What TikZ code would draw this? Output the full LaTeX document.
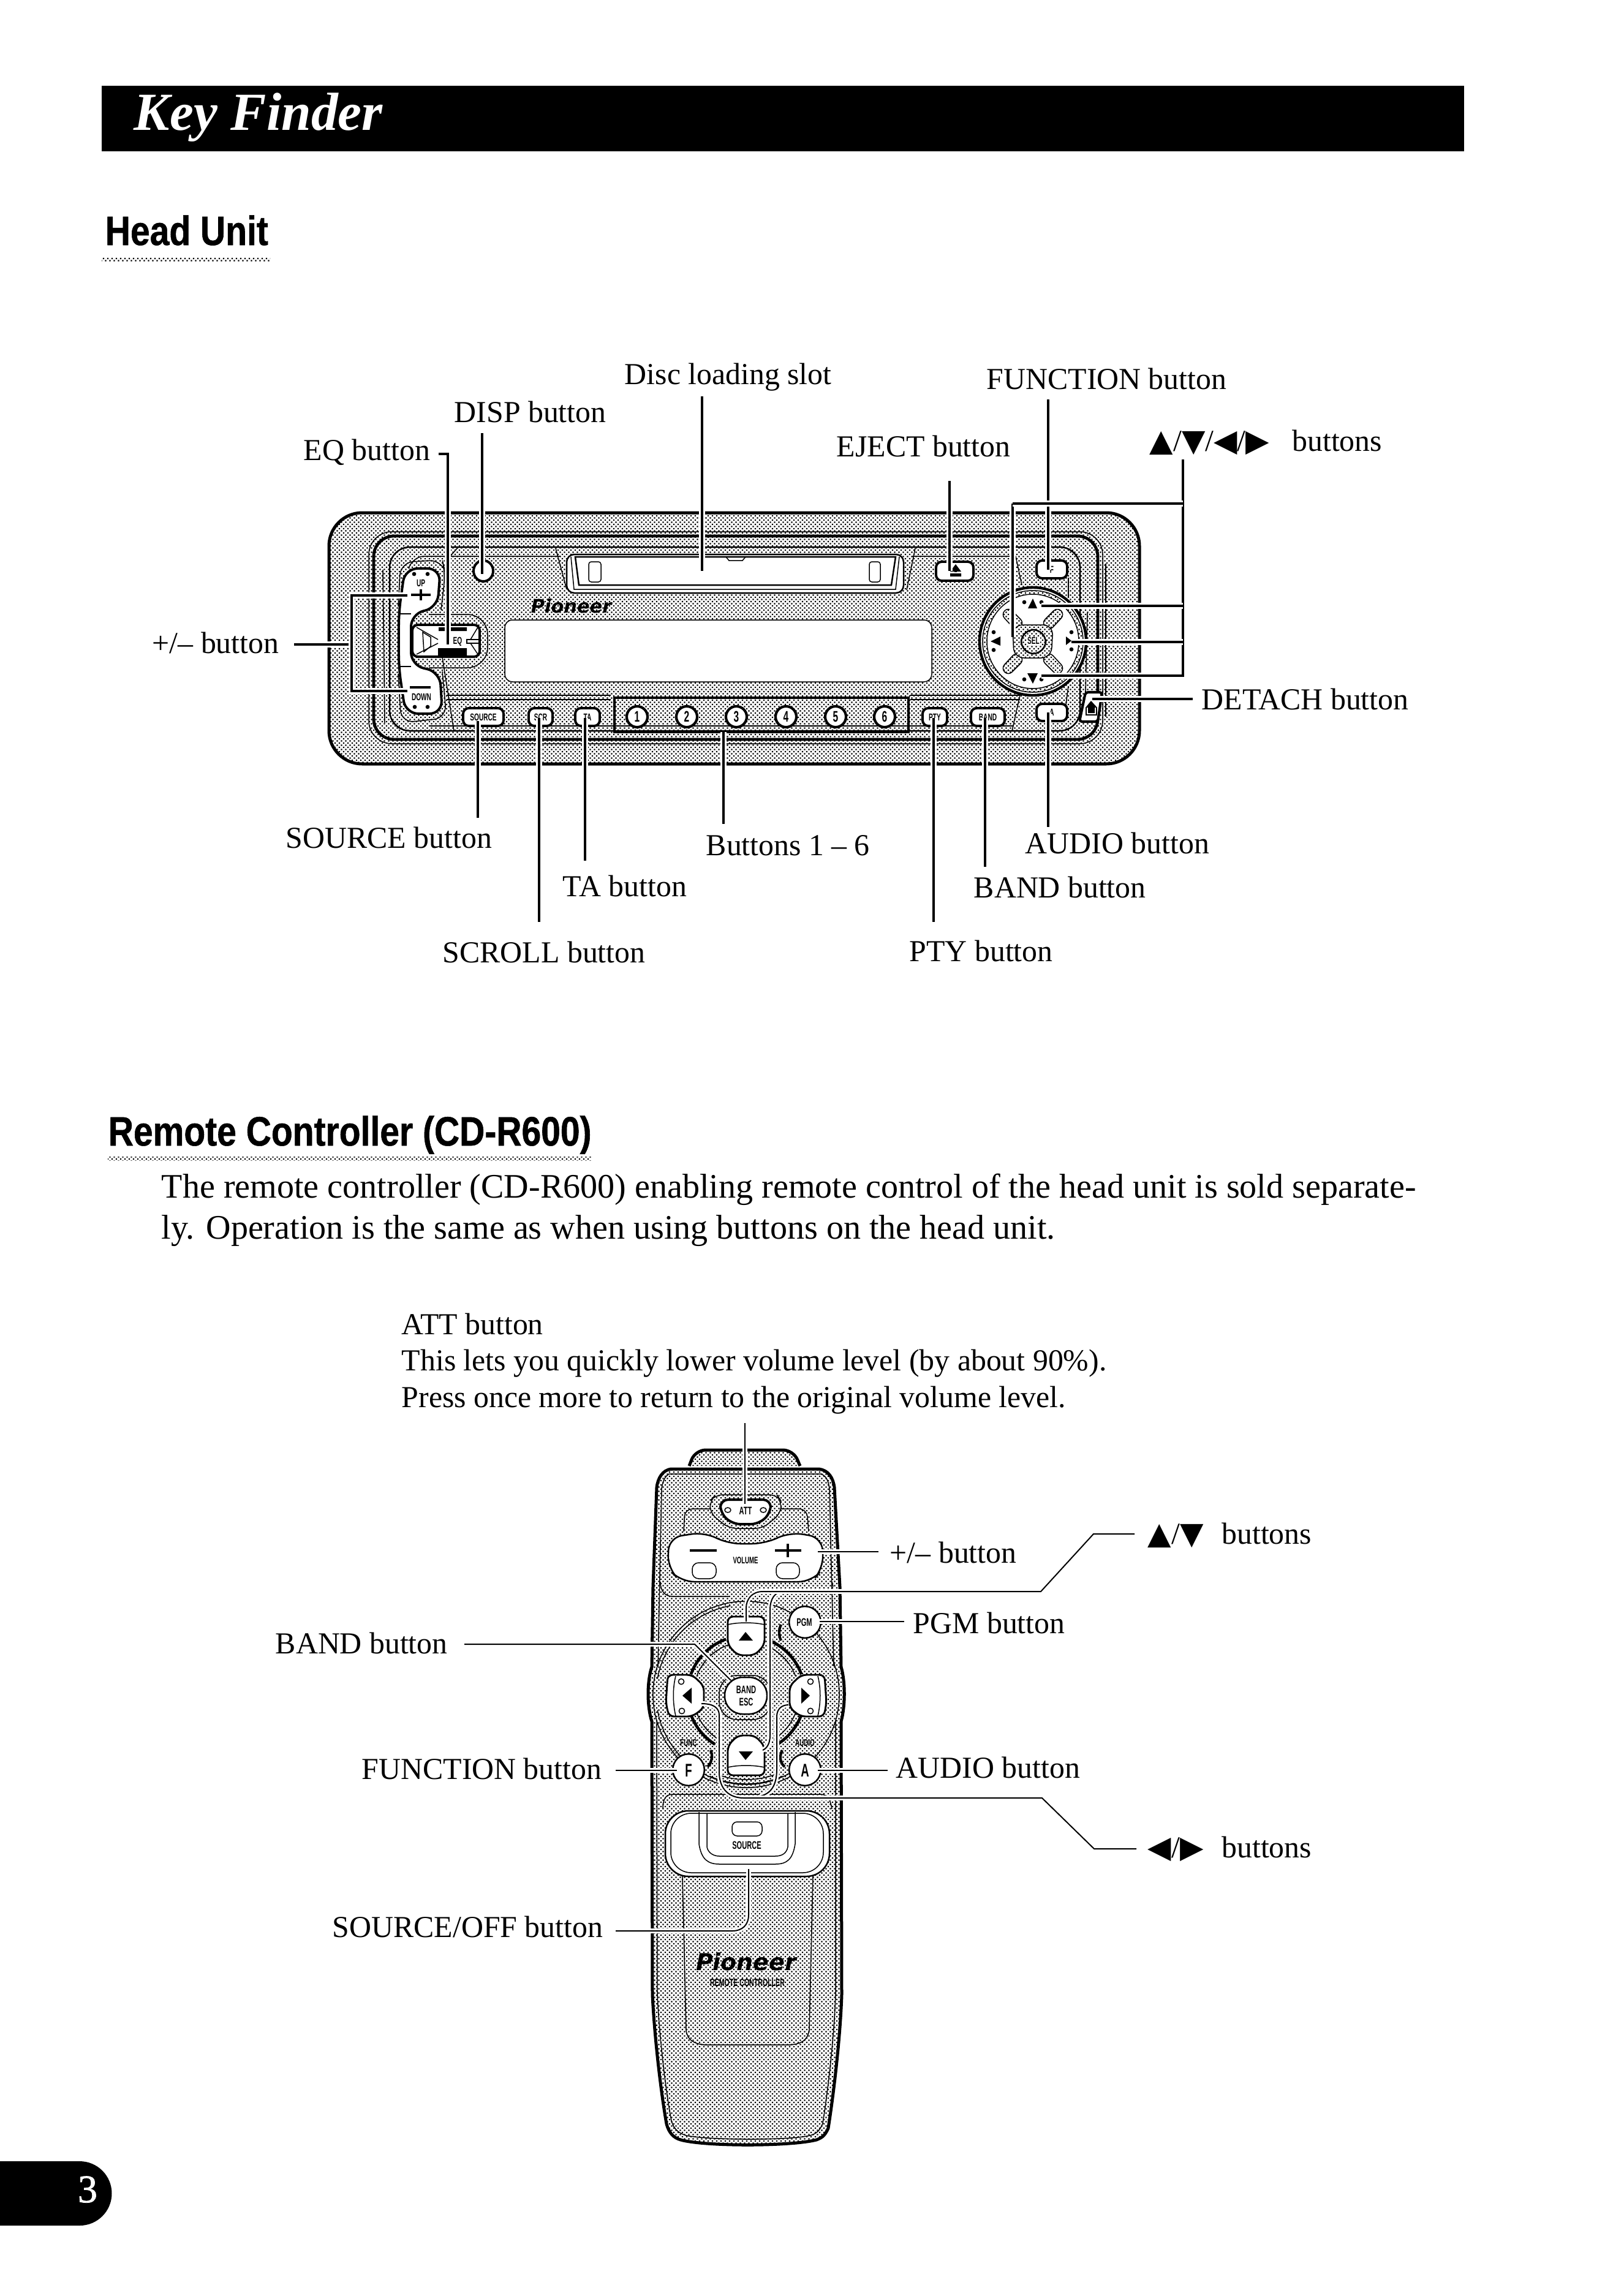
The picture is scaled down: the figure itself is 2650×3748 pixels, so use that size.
\documentclass[tikz,border=0pt]{standalone}
\usepackage{fontspec}
\usetikzlibrary{patterns}
\setmainfont{Liberation Serif}
\newfontfamily\headf[FakeStretch=0.85,FakeBold=0.8]{Liberation Sans}
\newfontfamily\capf[FakeStretch=0.62]{Liberation Sans}
\newfontfamily\logof{DejaVu Sans}
\newfontfamily\symf{DejaVu Sans}
\newfontfamily\pagef[FakeBold=1.2]{Liberation Serif}
% Halftone screen used on the moulded faces of both devices
\pgfdeclarepatternformonly{screen}{\pgfqpoint{-0.1pt}{-0.1pt}}{\pgfqpoint{1.7pt}{1.7pt}}{\pgfqpoint{1.68pt}{1.68pt}}{%
  \pgfpathrectangle{\pgfqpoint{0pt}{0pt}}{\pgfqpoint{0.53pt}{0.53pt}}%
  \pgfpathrectangle{\pgfqpoint{0.84pt}{0.84pt}}{\pgfqpoint{0.53pt}{0.53pt}}%
  \pgfusepath{fill}}
\newcommand{\lblsize}{\fontsize{11.95}{14}\selectfont}
\newcommand{\ringarc}[6]{\draw[#6] plot[domain=#4:#5,samples=24,smooth] ({#1+#3*cos(\x)},{#2-#3*sin(\x)});}
\newcommand{\keycap}[6]{\draw[capframe] (#2,#3) rectangle (#4,#5);
  \node[captext] (#1) at ({(#2+#4)/2},{(#3+#5)/2}) {#6};}
\newcommand{\tup}{{\symf\fontsize{12}{14}\selectfont ▲}}
\newcommand{\tdn}{{\symf\fontsize{12}{14}\selectfont ▼}}
\newcommand{\tlf}{{\symf\fontsize{12}{14}\selectfont ◀}}
\newcommand{\trt}{{\symf\fontsize{12}{14}\selectfont ▶}}
\tikzset{
  x=0.24pt,y=-0.24pt,
  lbl/.style={anchor=base west,inner sep=0pt,font=\lblsize},
  para/.style={anchor=base west,inner sep=0pt,font=\fontsize{13.46}{16}\selectfont},
  headline/.style={anchor=base west,inner sep=0pt,font=\headf\bfseries\fontsize{16.1}{18}\selectfont},
  captext/.style={inner sep=0pt,font=\capf\bfseries\fontsize{3.9}{4}\selectfont},
  bigcap/.style={inner sep=0pt,font=\capf\bfseries\fontsize{6}{7}\selectfont},
  lead/.style={line width=0.85pt,preaction={draw=white,line width=2.2pt}},
  thinlead/.style={line width=0.48pt,preaction={draw=white,line width=1.9pt}},
  shade/.style={pattern=screen,preaction={fill=white}},
  capframe/.style={draw,line width=0.95pt,fill=white,rounded corners=2.2pt},
  fine/.style={line width=0.36pt},
  mid/.style={line width=0.6pt},
  heavy/.style={line width=1.2pt},
  ink/.style={fill=black,draw=none},
}
\begin{document}
\begin{tikzpicture}
\useasboundingbox (0,0) rectangle (2650,3748);

% ---- page furniture ----
\fill (166,140) rectangle (2390,247);
\node[anchor=base west,inner sep=0pt,text=white,font=\bfseries\itshape\fontsize{21}{24}\selectfont] (title) at (218,212) {Key Finder};
\node[headline] (headA) at (171,400) {Head Unit};
\fill[pattern=screen] (166,420) rectangle (441,426);
\node[headline] (headB) at (176,1870) {Remote Controller (CD-R600)};
\fill[pattern=screen] (176,1888) rectangle (965,1894);
\fill (0,3528) -- (130,3528) arc[start angle=90,end angle=-90,radius=12.6pt] -- (0,3633) -- cycle;
\node[anchor=base,inner sep=0pt,text=white,font=\pagef\fontsize{15.4}{18}\selectfont] (pageno) at (143,3595) {3};

\node[para] (p1) at (263,1955) {The remote controller (CD-R600) enabling remote control of the head unit is sold separate-};
\node[para] (p2) at (263,2022) {ly. Operation is the same as when using buttons on the head unit.};

% ---- head unit: body and frames ----
\draw[heavy,shade,rounded corners=13pt] (537,837) rectangle (1860,1247);
\draw[fine,rounded corners=9pt] (602,868) rectangle (1800,1214);
\draw[line width=1.15pt,rounded corners=8pt] (610,875) rectangle (1792,1207);
\draw[mid,rounded corners=8pt] (636,893) rectangle (1763,1193);
\draw[fine] (625,930) -- (628,1180);
\draw[fine] (1775,1000) -- (1772,1130);
\draw[fine] (1805,920) -- (1805,1170);
% sub-frames that run from the slot to the keypad
\draw[fine,rounded corners=5pt] (668,925) -- (672,908) -- (915,908);
\draw[fine] (748,893) -- (735,908);
\draw[fine] (907,895) -- (925,962);
\draw[fine] (1494,895) -- (1480,963);
\draw[fine] (1489,908) -- (1658,908) -- (1668,955);
\draw[fine] (1744,943) -- (1744,975);
\draw[fine] (1744,1120) -- (1740,1150);
\draw[fine] (729,1135) -- (997,1135) (729,1142) -- (997,1142);
\draw[fine] (1486,1135) -- (1665,1135) (1486,1142) -- (1665,1142);
\draw[fine] (722,1073) -- (741,1193);
\draw[fine] (1665,1135) -- (1652,1193);
\draw[mid] (700,1185) -- (1655,1185);
\draw[fine,rounded corners=8pt] (700,1003) -- (796,1003) -- (796,1090) -- (700,1090);

% disc slot
\draw[mid,fill=white,rounded corners=3pt] (925,905) rectangle (1475,968);
\draw[mid] (939,909) -- (1462,909) -- (1455,955) -- (945,955) -- cycle;
\draw[fine] (932,909) -- (937,962) -- (1462,962) -- (1468,909);
\draw[fine,rounded corners=1pt] (961,917) rectangle (981,950);
\draw[fine,rounded corners=1pt] (1419,917) rectangle (1437,950);
\draw[fine] (1185,909) -- (1190,915) -- (1212,915) -- (1217,909);

% display window and logo
\draw[fine,fill=white,rounded corners=3pt] (824,1012) rectangle (1521,1113);
\node[anchor=base west,inner sep=0pt,font=\logof\bfseries\itshape\fontsize{7.3}{8}\selectfont] (logoA) at (866,1000) {Pioneer};

% rocker key with + and - ends
\draw[fine,rounded corners=5pt] (650,990) -- (654,918) -- (722,914) -- (727,935) -- (720,996);
\draw[fine,rounded corners=5pt] (722,1096) -- (729,1172) -- (655,1180) -- (650,1100);
\draw[line width=0.95pt,fill=white,rounded corners=5pt] (661,928) -- (719,928) -- (714,992) -- (671,1002) -- (671,1086) -- (718,1097) -- (722,1165) -- (662,1165) -- (651,1090) -- (651,1000) -- cycle;
\draw[fine] (651,1002) -- (671,1002) (651,1088) -- (671,1088);
\fill (676,937) circle[radius=0.8pt] (698,937) circle[radius=0.8pt] (677,1154) circle[radius=0.8pt] (698,1154) circle[radius=0.8pt];
\node[captext] (upkey) at (687,952) {UP};
\node[captext] (downkey) at (688,1138) {DOWN};
\draw[line width=1.1pt] (671,971) -- (703,971) (687,962) -- (687,980);
\draw[line width=1.1pt] (669,1122) -- (703,1122);

% EQ key
\draw[capframe] (673,1020) rectangle (783,1072);
\draw[fine] (690,1032) -- (692,1064) -- (703,1055) -- (703,1040) -- cycle;
\draw[fine] (680,1024) -- (715,1044) (680,1068) -- (715,1050) (780,1024) -- (768,1044) (780,1068) -- (768,1050);
\draw[fine] (762,1044) rectangle (782,1050);
\fill (716,1024) rectangle (762,1030) (715,1058) rectangle (762,1070);
\node[captext] (eqkey) at (747,1047) {EQ};

% DISP key
\draw[capframe,rounded corners=0pt] (789,932) ellipse[x radius=16,y radius=17];

% lower row of keys
\keycap{sourcekey}{756}{1156}{822}{1185}{SOURCE}
\keycap{scrkey}{863}{1156}{902}{1185}{SCR}
\keycap{takey}{939}{1156}{979}{1185}{TA}
\keycap{ptykey}{1506}{1156}{1546}{1185}{PTY}
\keycap{bandkey}{1585}{1156}{1640}{1185}{BAND}
\keycap{audiokey}{1692}{1149}{1742}{1177}{A}
\keycap{funckey}{1692}{915}{1742}{944}{F}
\draw[capframe] (1528,917) rectangle (1589,948);
\node[ink,inner sep=0pt] (ejectkey) at (1560,932) {};
\fill (1551,933) -- (1560,921) -- (1569,933) -- cycle (1551,936) rectangle (1569,941);

% preset keys 1-6 in their box
\draw[line width=0.85pt] (1003,1139) rectangle (1483,1195);
\foreach \nm/\cx/\txt in {pa/1040/1,pb/1121/2,pc/1202/3,pd/1283/4,pe/1364/5,pf/1444/6}{
  \draw[line width=1pt,fill=white] (\cx,1170) ellipse[x radius=17,y radius=17];
  \node[bigcap] (\nm) at (\cx,1170) {\txt};
}

% detach key
\draw[line width=1pt,fill=white,rounded corners=1pt] (1772,1130) -- (1799,1130) -- (1792,1178) -- (1762,1178) -- cycle;
\draw[fine] (1773,1155) -- (1773,1167) -- (1790,1167) -- (1790,1155);
\fill (1772,1155) -- (1781,1144) -- (1791,1155) -- (1787,1155) -- (1787,1164) -- (1776,1164) -- (1776,1155) -- cycle;

% direction pad
\draw[line width=1.05pt,fill=white] (1686,1047) ellipse[x radius=87,y radius=88];
\draw[fine,shade] (1686,1047) ellipse[x radius=82,y radius=83];
\draw[fine,fill=white] (1686,1047) ellipse[x radius=75,y radius=77];
\foreach \sx/\sy in {1/1,-1/1,1/-1,-1/-1}{
  \draw[fine,shade,rounded corners=2pt] ({1686+\sx*52},{1047+\sy*(-44)}) -- ({1686+\sx*40},{1047+\sy*(-56)}) -- ({1686+\sx*14},{1047+\sy*(-30)}) -- ({1686+\sx*27},{1047+\sy*(-17)}) -- cycle;
}
\draw[fine,shade,rounded corners=4pt] (1653,1020) -- (1719,1020) -- (1716,1074) -- (1655,1074) -- cycle;
\draw[mid,shade,rounded corners=5pt] (1667,1028) rectangle (1707,1067);
\node[captext,fill=white,inner sep=0.3pt] (selkey) at (1687,1046) {SEL};
\fill (1678,993) -- (1686,977) -- (1693,993) -- cycle;
\fill (1677,1099) -- (1686,1116) -- (1694,1099) -- cycle;
\fill (1617,1047) -- (1633,1039) -- (1633,1054) -- cycle;
\fill (1740,1039) -- (1749,1046) -- (1740,1053) -- cycle;
\foreach \a/\b in {1672/983,1700/983,1672/1109,1700/1109,1622/1032,1622/1061,1749/1032,1749/1060}{
  \fill (\a,\b) circle[radius=0.8pt];
}

% ---- head unit: callouts ----
\coordinate (eqA) at (716,741);   \coordinate (eqB) at (731,741);   \coordinate (eqC) at (731,1052);
\coordinate (dispA) at (787,707); \coordinate (dispB) at (787,937);
\coordinate (discA) at (1146,647);\coordinate (discB) at (1146,932);
\coordinate (ejA) at (1550,785);  \coordinate (ejB) at (1550,932);
\coordinate (fnA) at (1711,652);  \coordinate (fnB) at (1711,930);
\coordinate (brTop) at (1931,750);\coordinate (brC) at (1931,822);
\coordinate (brL) at (1653,822);  \coordinate (brLd) at (1653,1040);
\coordinate (brU) at (1931,989);  \coordinate (upEnd) at (1700,989);
\coordinate (brM) at (1931,1048); \coordinate (rtEnd) at (1749,1048);
\coordinate (brD) at (1931,1103); \coordinate (dnEnd) at (1700,1103);
\coordinate (plA) at (480,1052);  \coordinate (plB) at (574,1052);
\coordinate (plT) at (574,972);   \coordinate (plTe) at (665,972);
\coordinate (plD) at (574,1128);  \coordinate (plDe) at (665,1128);
\coordinate (detA) at (1783,1141);\coordinate (detB) at (1947,1141);
\coordinate (srcA) at (780,1177); \coordinate (srcB) at (780,1335);
\coordinate (scrA) at (880,1172); \coordinate (scrB) at (880,1505);
\coordinate (taA) at (955,1172);  \coordinate (taB) at (955,1405);
\coordinate (numA) at (1181,1195);\coordinate (numB) at (1181,1345);
\coordinate (ptyA) at (1524,1172);\coordinate (ptyB) at (1524,1505);
\coordinate (bndA) at (1608,1172);\coordinate (bndB) at (1608,1415);
\coordinate (audA) at (1711,1163);\coordinate (audB) at (1711,1350);

\draw[lead] (eqA) -- (eqB) -- (eqC);
\draw[lead] (dispA) -- (dispB);
\draw[lead] (discA) -- (discB);
\draw[lead] (ejA) -- (ejB);
\draw[lead] (brL) -- (brLd);
\draw[lead] (fnA) -- (fnB);
\draw[lead] (brTop) -- (brD) -- (dnEnd);
\draw[lead] (brC) -- (brL);
\draw[lead] (brU) -- (upEnd);
\draw[lead] (brM) -- (rtEnd);
\draw[lead] (plA) -- (plB);
\draw[lead] (plTe) -- (plT) -- (plD) -- (plDe);
\draw[lead] (detA) -- (detB);
\draw[lead] (srcA) -- (srcB);
\draw[lead] (scrA) -- (scrB);
\draw[lead] (taA) -- (taB);
\draw[lead] (numA) -- (numB);
\draw[lead] (ptyA) -- (ptyB);
\draw[lead] (bndA) -- (bndB);
\draw[lead] (audA) -- (audB);

\node[lbl] (lDisc) at (1019,627) {Disc loading slot};
\node[lbl] (lDisp) at (741,689) {DISP button};
\node[lbl] (lEq) at (495,751) {EQ button};
\node[lbl] (lFunc) at (1610,635) {FUNCTION button};
\node[lbl] (lEject) at (1365,745) {EJECT button};
\node[lbl] (lArrows) at (1876,736) {\tup/\tdn/\tlf/\trt\hspace{0.75em}buttons};
\node[lbl] (lPlus) at (248,1066) {+/– button};
\node[lbl] (lDetach) at (1961,1158) {DETACH button};
\node[lbl] (lSource) at (466,1384) {SOURCE button};
\node[lbl] (lTa) at (918,1463) {TA button};
\node[lbl] (lNum) at (1152,1396) {Buttons 1 – 6};
\node[lbl] (lAudio) at (1673,1393) {AUDIO button};
\node[lbl] (lBand) at (1589,1465) {BAND button};
\node[lbl] (lScroll) at (722,1571) {SCROLL button};
\node[lbl] (lPty) at (1484,1569) {PTY button};

% ---- remote controller: casing ----
\draw[heavy,shade,rounded corners=4pt] (1125,2393) -- (1135,2367) -- (1295,2367) -- (1306,2393);
\draw[heavy,shade] (1095,2398) -- (1337,2398) .. controls (1352,2400) and (1360,2412) .. (1362,2428)
  -- (1371,2590) -- (1373,2721) .. controls (1380,2745) and (1380,2785) .. (1373,2810)
  -- (1374,3256) .. controls (1372,3320) and (1362,3410) .. (1352,3474)
  .. controls (1346,3488) and (1340,3490) .. (1333,3493) .. controls (1290,3504) and (1150,3504) .. (1111,3493)
  .. controls (1100,3490) and (1092,3482) .. (1088,3467) .. controls (1078,3410) and (1068,3320) .. (1065,3256)
  -- (1064,2810) .. controls (1056,2785) and (1056,2745) .. (1064,2721)
  -- (1066,2590) -- (1072,2428) .. controls (1074,2412) and (1082,2400) .. (1095,2398) -- cycle;
\draw[fine] (1092,2406) -- (1340,2406) .. controls (1350,2410) and (1352,2418) .. (1354,2430)
  -- (1361,2720) (1364,2810) -- (1364,3256) .. controls (1362,3320) and (1352,3410) .. (1343,3466)
  .. controls (1338,3480) and (1330,3484) .. (1322,3486) .. controls (1290,3494) and (1160,3494) .. (1120,3486)
  .. controls (1108,3482) and (1100,3476) .. (1096,3462) .. controls (1086,3410) and (1076,3320) .. (1073,3256)
  -- (1072,2810) (1074,2720) -- (1080,2430) .. controls (1082,2416) and (1086,2410) .. (1092,2406);
\draw[fine] (1078,2582) .. controls (1078,2598) and (1086,2606) .. (1098,2606) -- (1190,2606);
\draw[fine] (1358,2582) -- (1360,2590);
\draw[fine] (1082,2953) .. controls (1082,2938) and (1086,2929) .. (1098,2929) -- (1340,2929) .. controls (1350,2929) and (1356,2938) .. (1358,2953);

% volume key and ATT key
\draw[fine,rounded corners=3pt] (1116,2500) -- (1118,2463) -- (1165,2463) (1270,2463) -- (1317,2463) -- (1320,2500);
\draw[mid,fill=white,rounded corners=5pt] (1092,2510) -- (1150,2501) -- (1188,2520) -- (1248,2520) -- (1290,2501) -- (1342,2510) -- (1344,2560) -- (1325,2582) -- (1112,2582) -- (1090,2560) -- cycle;
\draw[line width=1.15pt] (1126,2531) -- (1170,2531) (1265,2531) -- (1308,2531) (1286,2520) -- (1286,2542);
\draw[fine,fill=white,rounded corners=2.5pt] (1130,2551) rectangle (1169,2577);
\draw[fine,fill=white,rounded corners=2.5pt] (1267,2551) rectangle (1305,2577);
\node[captext,font=\capf\bfseries\fontsize{3.7}{4}\selectfont] (volkey) at (1217,2547) {VOLUME};
\draw[fine,shade,rounded corners=3pt] (1159,2450) -- (1168,2440) -- (1268,2440) -- (1275,2450) -- (1275,2470) -- (1245,2495) -- (1190,2495) -- (1159,2470) -- cycle;
\draw[line width=0.95pt,fill=white,rounded corners=3pt] (1176,2448) -- (1258,2448) -- (1258,2470) -- (1238,2488) -- (1196,2488) -- (1176,2470) -- cycle;
\draw[fine] (1188,2465) ellipse[x radius=5,y radius=4] (1246,2465) ellipse[x radius=5,y radius=4];
\node[captext,font=\capf\bfseries\fontsize{4.3}{5}\selectfont] (attkey) at (1217,2466) {ATT};

% direction ring
\draw[fine] (1218,2766) circle[radius=36.5pt];
\ringarc{1218}{2766}{147}{100}{170}{fine}
\ringarc{1218}{2766}{147}{190}{300}{fine}
\foreach \a/\b in {110/160,20/66,200/238,302/340}{
  \ringarc{1218}{2766}{96}{\a}{\b}{line width=1.15pt}
  \ringarc{1218}{2766}{86}{\a}{\b}{fine}
}
\draw[line width=1pt] (1275,2652) .. controls (1271,2660) and (1271,2670) .. (1275,2678);
\draw[line width=1pt] (1160,2857) .. controls (1164,2865) and (1162,2878) .. (1155,2884);
\draw[line width=1pt] (1277,2857) .. controls (1272,2866) and (1273,2878) .. (1281,2884);
\ringarc{1218}{2766}{146}{246}{294}{fine}
\ringarc{1218}{2766}{139}{250}{290}{fine}

\draw[capframe,line width=0.7pt,rounded corners=2pt] (1188,2639) -- (1248,2639) -- (1248,2685) -- (1232,2702) -- (1204,2702) -- (1188,2685) -- cycle;
\draw[fine] (1188,2652) .. controls (1205,2648) and (1230,2648) .. (1248,2652);
\fill (1206,2678) -- (1217,2664) -- (1229,2678) -- cycle;
\draw[capframe,line width=0.7pt,rounded corners=2pt] (1204,2833) -- (1232,2833) -- (1248,2850) -- (1248,2898) -- (1188,2898) -- (1188,2850) -- cycle;
\draw[fine] (1188,2885) .. controls (1205,2881) and (1230,2881) .. (1248,2885);
\fill (1206,2859) -- (1229,2859) -- (1217,2873) -- cycle;
\draw[capframe,line width=0.7pt,rounded corners=2pt] (1090,2734) -- (1130,2734) -- (1149,2752) -- (1149,2788) -- (1130,2802) -- (1092,2802) -- (1087,2780) -- cycle;
\draw[fine] (1103,2736) .. controls (1098,2755) and (1098,2780) .. (1103,2801);
\fill (1114,2768) -- (1129,2755) -- (1129,2781) -- cycle;
\draw[fine] (1112,2745) circle[radius=1.1pt] (1113,2793) circle[radius=1.1pt];
\draw[capframe,line width=0.7pt,rounded corners=2pt] (1308,2734) -- (1346,2734) -- (1349,2780) -- (1345,2802) -- (1307,2802) -- (1289,2788) -- (1289,2752) -- cycle;
\draw[fine] (1335,2736) .. controls (1340,2755) and (1340,2780) .. (1335,2801);
\fill (1322,2768) -- (1308,2755) -- (1308,2781) -- cycle;
\draw[fine] (1323,2745) circle[radius=1.1pt] (1323,2793) circle[radius=1.1pt];

\draw[fine,rounded corners=7pt] (1174,2735) rectangle (1258,2807);
\draw[mid,fill=white,rounded corners=7pt] (1183,2738) rectangle (1252,2798);
\node[captext,font=\capf\bfseries\fontsize{4.3}{5}\selectfont] (bandkey2) at (1218,2758) {BAND};
\node[captext,font=\capf\bfseries\fontsize{4.3}{5}\selectfont] (esckey) at (1218,2778) {ESC};

\draw[mid,fill=white] (1314,2648) circle[radius=6.2pt];
\node[captext,font=\capf\bfseries\fontsize{4.3}{5}\selectfont] (pgmkey) at (1313,2648) {PGM};
\draw[mid,fill=white] (1124,2889) circle[radius=6.2pt];
\node[captext,font=\capf\bfseries\fontsize{7.2}{8}\selectfont] (fkey) at (1124,2890) {F};
\draw[mid,fill=white] (1314,2889) circle[radius=6.2pt];
\node[captext,font=\capf\bfseries\fontsize{7.2}{8}\selectfont] (akey) at (1314,2890) {A};
\node[captext,font=\capf\bfseries\fontsize{3.8}{4}\selectfont] (functxt) at (1124,2845) {FUNC};
\node[captext,font=\capf\bfseries\fontsize{3.8}{4}\selectfont] (audtxt) at (1314,2845) {AUDIO};

% source flap and lower cover
\draw[fine] (1114,3063) -- (1120,3314) .. controls (1122,3330) and (1132,3336) .. (1150,3338) -- (1290,3338) .. controls (1310,3336) and (1318,3330) .. (1321,3314) -- (1327,3063);
\draw[mid,fill=white,rounded corners=9pt] (1086,2956) rectangle (1354,3063);
\draw[fine,rounded corners=8pt] (1095,2960) rectangle (1344,3057);
\draw[fine] (1141,2958) -- (1141,3010) .. controls (1145,3035) and (1155,3043) .. (1175,3043) -- (1265,3043) .. controls (1285,3043) and (1294,3035) .. (1298,3010) -- (1298,2958);
\draw[fine] (1154,2960) -- (1154,3015) .. controls (1156,3025) and (1165,3030) .. (1175,3030) -- (1265,3030) .. controls (1277,3030) and (1284,3025) .. (1286,3015) -- (1286,2960);
\draw[fine,rounded corners=2pt] (1195,2974) rectangle (1244,2997);
\node[captext,font=\capf\bfseries\fontsize{4.3}{5}\selectfont] (srckey) at (1219,3012) {SOURCE};
\node[anchor=base,inner sep=0pt,font=\logof\bfseries\itshape\fontsize{9.1}{10}\selectfont] (logoB) at (1218,3216) {Pioneer};
\node[inner sep=0pt,font=\capf\bfseries\fontsize{4.1}{5}\selectfont] (rc) at (1220,3237) {REMOTE CONTROLLER};

% ---- remote controller: callouts ----
\coordinate (attA) at (1216,2323); \coordinate (attB) at (1216,2455);
\coordinate (volA) at (1335,2533); \coordinate (volB) at (1434,2533);
\coordinate (pgmA) at (1338,2647); \coordinate (pgmB) at (1476,2647);
\coordinate (audRa) at (1335,2890);\coordinate (audRb) at (1449,2890);
\coordinate (fA) at (1005,2890);   \coordinate (fB) at (1105,2890);
\coordinate (bA) at (758,2684);    \coordinate (bB) at (1134,2684); \coordinate (bC) at (1193,2743);
\coordinate (uA) at (1852,2504);   \coordinate (uB) at (1785,2504); \coordinate (uC) at (1699,2598);
\coordinate (uD) at (1245,2598);   \coordinate (uE) at (1218,2647);
\coordinate (uF) at (1279,2598);   \coordinate (uG) at (1257,2833); \coordinate (uH) at (1245,2857);
\coordinate (lA) at (1855,3018);   \coordinate (lB) at (1786,3018); \coordinate (lC) at (1701,2935);
\coordinate (lD) at (1214,2935);   \coordinate (lE) at (1174,2800); \coordinate (lF) at (1145,2781);
\coordinate (lG) at (1241,2932);   \coordinate (lH) at (1268,2802); \coordinate (lI) at (1287,2783);
\coordinate (sA) at (1005,3152);   \coordinate (sB) at (1195,3152); \coordinate (sC) at (1222,3126); \coordinate (sD) at (1222,3051);

\draw[thinlead] (attA) -- (attB);
\draw[thinlead] (volA) -- (volB);
\draw[thinlead] (pgmA) -- (pgmB);
\draw[thinlead] (audRa) -- (audRb);
\draw[thinlead] (fA) -- (fB);
\draw[thinlead] (bA) -- (bB) -- (bC);
\draw[thinlead] (uF) .. controls (1265,2598) and (1257,2610) .. (1257,2628) -- (uG) .. controls (1257,2846) and (1252,2854) .. (uH);
\draw[thinlead] (uA) -- (uB) -- (uC) -- (uD) .. controls (1228,2598) and (1218,2610) .. (1218,2625) -- (uE);
\draw[thinlead] (lG) .. controls (1258,2928) and (1268,2915) .. (1268,2888) -- (lH) .. controls (1268,2790) and (1276,2783) .. (lI);
\draw[thinlead] (lA) -- (lB) -- (lC) -- (lD) .. controls (1190,2935) and (1174,2920) .. (1174,2893) -- (lE) .. controls (1174,2788) and (1165,2781) .. (lF);
\draw[thinlead] (sA) -- (sB) .. controls (1212,3152) and (1222,3142) .. (sC) -- (sD);

\node[lbl] (rAtt) at (655,2178) {ATT button};
\node[lbl] (rAtt2) at (655,2237) {This lets you quickly lower volume level (by about 90\%).};
\node[lbl] (rAtt3) at (655,2297) {Press once more to return to the original volume level.};
\node[lbl] (rVol) at (1452,2551) {+/– button};
\node[lbl] (rPgm) at (1490,2666) {PGM button};
\node[lbl] (rAud) at (1462,2902) {AUDIO button};
\node[lbl] (rBand) at (449,2699) {BAND button};
\node[lbl] (rFunc) at (590,2904) {FUNCTION button};
\node[lbl] (rSrc) at (542,3162) {SOURCE/OFF button};
\node[lbl] (rUpDn) at (1873,2520) {\tup/\tdn\hspace{0.6em}buttons};
\node[lbl] (rLfRt) at (1873,3032) {\tlf/\trt\hspace{0.6em}buttons};
\end{tikzpicture}
\end{document}
